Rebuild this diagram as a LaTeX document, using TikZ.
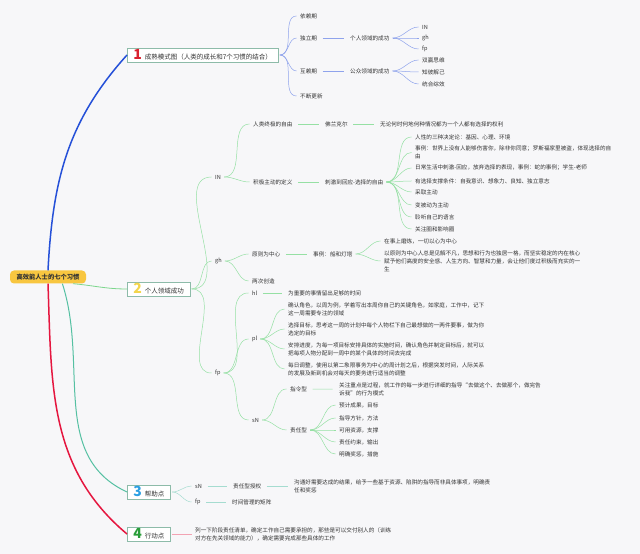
\documentclass[tikz,border=0pt]{standalone}
\usepackage{fontspec}
\setmainfont{Noto Sans CJK SC}
\usepackage{tikz}
\usetikzlibrary{calc,positioning}
\definecolor{bgpaper}{HTML}{F7F7F9}
\definecolor{rootfill}{HTML}{F8C640}
\definecolor{boxline}{HTML}{8DBBA9}
\definecolor{inkgray}{HTML}{333333}
\definecolor{blmain}{HTML}{2550D8}
\definecolor{blsub}{HTML}{8FA3EC}
\definecolor{grmain}{HTML}{7CD68C}
\definecolor{grsub}{HTML}{96E0A4}
\definecolor{tlmain}{HTML}{55C0A2}
\definecolor{tlsub}{HTML}{A5DCD0}
\definecolor{rdmain}{HTML}{E5163F}
\definecolor{rdsub}{HTML}{F2A3B3}
\definecolor{numred}{HTML}{D9202E}
\definecolor{numyellow}{HTML}{F3D54C}
\definecolor{numblue}{HTML}{2B9FE3}
\definecolor{numgreen}{HTML}{2A9E3A}
\newcommand{\numtag}[2]{\textcolor{#1}{\fontsize{14}{14}\selectfont\bfseries #2}\hspace{3pt}}
\tikzset{
	leaf/.style={anchor=west,inner sep=1.5pt,text=inkgray,align=left,font=\fontsize{5.6}{8}\selectfont},
	topic/.style={anchor=west,draw=boxline,fill=white,line width=0.7pt,inner xsep=6pt,inner ysep=1pt,minimum height=14pt,text=inkgray,font=\fontsize{6.5}{8}\selectfont},
	rootbox/.style={fill=rootfill,rounded corners=4pt,minimum width=76pt,minimum height=13pt,inner sep=1pt,text=inkgray,font=\fontsize{6.3}{8}\selectfont\bfseries},
	bl/.style={draw=blsub,line width=0.5pt,shorten <=1.5pt,shorten >=2pt},
	gr/.style={draw=grsub,line width=0.5pt,shorten <=1.5pt,shorten >=2pt},
	tl/.style={draw=tlsub,line width=0.5pt,shorten <=1.5pt,shorten >=2pt},
	rd/.style={draw=rdsub,line width=0.6pt,shorten <=1.5pt,shorten >=2pt},
	flat/.style={shorten <=4pt,shorten >=5pt}
}
\begin{document}
\begin{tikzpicture}[x=1pt,y=1pt]
				 %\draw[color=gray,step=10, help lines,opacity=0.3] (0,0) grid (640,554); %help grids
				\fill[bgpaper] (0,0) rectangle (640,554);
				\useasboundingbox (0,0) rectangle (640,554);
				% root and the four topics
				\node[rootbox] (root) at (48,277) {高效能人士的七个习惯};
				\node[topic] (b1) at (127,499) {\numtag{numred}{1}成熟模式图（人类的成长和7个习惯的结合）};
				\node[topic] (b2) at (127,265) {\numtag{numyellow}{2}个人领域成功};
				\node[topic] (b3) at (127,62) {\numtag{numblue}{3}帮助点};
				\node[topic] (b4) at (127,20) {\numtag{numgreen}{4}行动点};
				\draw[blmain,line width=1.5pt] (root.north) to[out=87,in=228] (b1.west);
				\draw[grmain,line width=0.8pt] (root.-15) to[out=-5,in=180] (b2.west);
				\draw[tlmain,line width=1pt] (root.-25) to[out=-72,in=155] (b3.west);
				\draw[rdmain,line width=1.5pt] (root.south) to[out=-88,in=140] (b4.west);
				% 1
				\node[leaf] (yilai) at (298.5,538) {依赖期};
				\node[leaf] (duli) at (298.5,516) {独立期};
				\node[leaf] (geren) at (348.5,516) {个人领域的成功};
				\node[leaf] (inA) at (420.5,527) {IN};
				\node[leaf] (ghA) at (420.5,516) {gh};
				\node[leaf] (fpA) at (420.5,505) {fp};
				\node[leaf] (hulai) at (298.5,483) {互赖期};
				\node[leaf] (gongzhong) at (348.5,483) {公众领域的成功};
				\node[leaf] (shuang) at (420.5,494) {双赢思维};
				\node[leaf] (zhibi) at (420.5,482) {知彼解己};
				\node[leaf] (tonghe) at (420.5,470) {统合综效};
				\node[leaf] (buduan) at (298.5,458) {不断更新};
				\draw[bl] (b1.east) to[out=0,in=180] (yilai.west);
				\draw[bl] (b1.east) to[out=0,in=180] (duli.west);
				\draw[bl] (b1.east) to[out=0,in=180] (hulai.west);
				\draw[bl] (b1.east) to[out=0,in=180] (buduan.west);
				\draw[bl,flat] (duli) -- (geren);
				\draw[bl] (geren.east) to[out=0,in=180] (inA.west);
				\draw[bl] (geren.east) to[out=0,in=180] (ghA.west);
				\draw[bl] (geren.east) to[out=0,in=180] (fpA.west);
				\draw[bl,flat] (hulai) -- (gongzhong);
				\draw[bl] (gongzhong.east) to[out=0,in=180] (shuang.west);
				\draw[bl] (gongzhong.east) to[out=0,in=180] (zhibi.west);
				\draw[bl] (gongzhong.east) to[out=0,in=180] (tonghe.west);
				% 2
				\node[leaf] (inB) at (213.5,377) {IN};
				\node[leaf] (renlei) at (251.5,430) {人类终极的自由};
				\node[leaf] (folan) at (323.5,430) {佛兰克尔};
				\node[leaf] (wulun) at (378.5,430) {无论何时何地何种情况都为一个人都有选择的权利};
				\node[leaf] (jiji) at (251.5,372) {积极主动的定义};
				\node[leaf] (ciji) at (323.5,372) {刺激到回应-选择的自由};
				\node[leaf] (ca) at (413.5,417) {人性的三种决定论：基因、心理、环境};
				\node[leaf] (cb) at (413.5,401.5) {事例：世界上没有人能够伤害你，除非你同意；罗斯福家里被盗，体现选择的自\\由};
				\node[leaf] (cc) at (413.5,386) {日常生活中刺激-回应，放弃选择的表现，事例：蛇的事例；学生-老师};
				\node[leaf] (cd) at (413.5,373) {有选择支撑条件：自我意识、想象力、良知、独立意志};
				\node[leaf] (ce) at (413.5,362) {采取主动};
				\node[leaf] (cf) at (413.5,349) {变被动为主动};
				\node[leaf] (cg) at (413.5,337) {聆听自己的语言};
				\node[leaf] (ch) at (413.5,325) {关注圈和影响圈};
				\node[leaf] (ghB) at (213.5,293) {gh};
				\node[leaf] (yuanze) at (250.5,300) {原则为中心};
				\node[leaf] (chuan) at (311.5,300) {事例：船和灯塔};
				\node[leaf] (da) at (382.5,313) {在事上磨炼，一切以心为中心};
				\node[leaf] (db) at (382.5,293) {以原则为中心人总是见解不凡，思想和行为也独居一格，而坚实稳定的内在核心\\赋予他们高度的安全感、人生方向、智慧和力量，会让他们度过积极而充实的一\\生};
				\node[leaf] (liangci) at (250.5,273) {两次创造};
				\node[leaf] (fpB) at (213.5,181) {fp};
				\node[leaf] (hl) at (250.5,261) {hl};
				\node[leaf] (hlt) at (286.5,261) {为重要的事情留出足够的时间};
				\node[leaf] (pl) at (250.5,215) {pl};
				\node[leaf] (pa) at (286.5,245) {确认角色，以周为例，学着写出本周你自己的关键角色，如家庭，工作中，记下\\这一周需要专注的领域};
				\node[leaf] (pb) at (286.5,225) {选择目标，思考这一周的计划中每个人物栏下自己最想做的一两件要事，做为你\\选定的目标};
				\node[leaf] (pc) at (286.5,205) {安排进度，为每一项目标安排具体的实施时间，确认角色并制定目标后，就可以\\把每项人物分配到一周中的某个具体的时间去完成};
				\node[leaf] (pd) at (286.5,185) {每日调整，使用以第二象限事务为中心的周计划之后，根据突发时间，人际关系\\的发展及新到机会对每天的要务进行适当的调整};
				\node[leaf] (sN) at (250.5,134) {sN};
				\node[leaf] (zhiling) at (288.5,165) {指令型};
				\node[leaf] (zl) at (337.5,164.5) {关注重点是过程，就工作的每一步进行详细的指导“去做这个、去做那个，做完告\\诉我”的行为模式};
				\node[leaf] (zeren) at (288.5,124) {责任型};
				\node[leaf] (za) at (337.5,149) {预计成果，目标};
				\node[leaf] (zb) at (337.5,136) {指导方针，方法};
				\node[leaf] (zc) at (337.5,124) {可用资源，支撑};
				\node[leaf] (zd) at (337.5,112) {责任约束，输出};
				\node[leaf] (ze) at (337.5,100) {明确奖惩，措施};
				\draw[gr] (b2.east) to[out=0,in=180] (inB.west);
				\draw[gr] (b2.east) to[out=0,in=180] (ghB.west);
				\draw[gr] (b2.east) to[out=0,in=180] (fpB.west);
				\draw[gr] (inB.east) to[out=0,in=180] (renlei.west);
				\draw[gr] (inB.east) to[out=0,in=180] (jiji.west);
				\draw[gr,flat] (renlei) -- (folan);
				\draw[gr,flat] (folan) -- (wulun);
				\draw[gr,flat] (jiji) -- (ciji);
				\draw[gr] (ciji.east) to[out=0,in=180] (ca.west);
				\draw[gr] (ciji.east) to[out=0,in=180] (cb.west);
				\draw[gr] (ciji.east) to[out=0,in=180] (cc.west);
				\draw[gr] (ciji.east) to[out=0,in=180] (cd.west);
				\draw[gr] (ciji.east) to[out=0,in=180] (ce.west);
				\draw[gr] (ciji.east) to[out=0,in=180] (cf.west);
				\draw[gr] (ciji.east) to[out=0,in=180] (cg.west);
				\draw[gr] (ciji.east) to[out=0,in=180] (ch.west);
				\draw[gr] (ghB.east) to[out=0,in=180] (yuanze.west);
				\draw[gr] (ghB.east) to[out=0,in=180] (liangci.west);
				\draw[gr,flat] (yuanze) -- (chuan);
				\draw[gr] (chuan.east) to[out=0,in=180] (da.west);
				\draw[gr] (chuan.east) to[out=0,in=180] (db.west);
				\draw[gr] (fpB.east) to[out=0,in=180] (hl.west);
				\draw[gr] (fpB.east) to[out=0,in=180] (pl.west);
				\draw[gr] (fpB.east) to[out=0,in=180] (sN.west);
				\draw[gr,flat] (hl) -- (hlt);
				\draw[gr] (pl.east) to[out=0,in=180] (pa.west);
				\draw[gr] (pl.east) to[out=0,in=180] (pb.west);
				\draw[gr] (pl.east) to[out=0,in=180] (pc.west);
				\draw[gr] (pl.east) to[out=0,in=180] (pd.west);
				\draw[gr] (sN.east) to[out=0,in=180] (zhiling.west);
				\draw[gr] (sN.east) to[out=0,in=180] (zeren.west);
				\draw[gr,flat] (zhiling) -- (zl);
				\draw[gr] (zeren.east) to[out=0,in=180] (za.west);
				\draw[gr] (zeren.east) to[out=0,in=180] (zb.west);
				\draw[gr] (zeren.east) to[out=0,in=180] (zc.west);
				\draw[gr] (zeren.east) to[out=0,in=180] (zd.west);
				\draw[gr] (zeren.east) to[out=0,in=180] (ze.west);
				% 3
				\node[leaf] (sNC) at (193.5,68) {sN};
				\node[leaf] (shouquan) at (231.5,68) {责任型授权};
				\node[leaf] (goutong) at (292.5,68) {沟通好需要达成的结果，给予一些基于资源、陷阱的指导而非具体事项，明确责\\任和奖惩};
				\node[leaf] (fpC) at (193.5,52) {fp};
				\node[leaf] (juzhen) at (230.5,52) {时间管理的矩阵};
				\draw[tl] (b3.east) to[out=0,in=180] (sNC.west);
				\draw[tl] (b3.east) to[out=0,in=180] (fpC.west);
				\draw[tl,flat] (sNC) -- (shouquan);
				\draw[tl,flat] (shouquan) -- (goutong);
				\draw[tl,flat] (fpC) -- (juzhen);
				% 4
				\node[leaf] (qingdan) at (193.5,20) {列一下阶段责任清单，确定工作自己需要承担的，那些是可以交付别人的（训练\\对方在先关领域的能力），确定需要完成那些具体的工作};
				\draw[rd] (b4.east) -- (qingdan.west);
\end{tikzpicture}
\end{document}
